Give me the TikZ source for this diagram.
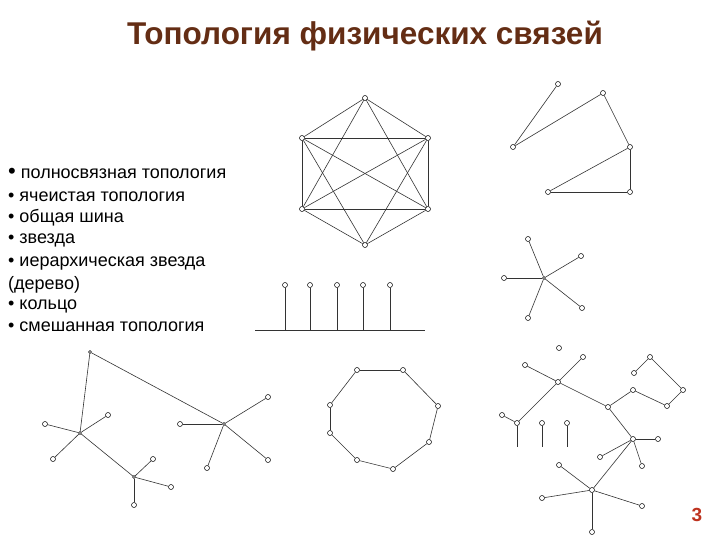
\documentclass[tikz,border=0pt]{standalone}
\usepackage{fontspec}
\setmainfont{Liberation Sans}
\definecolor{ttl}{RGB}{100,45,20}
\definecolor{num}{RGB}{190,50,30}
\begin{document}
\begin{tikzpicture}[x=1bp,y=-1bp,
 vx/.style={circle,draw,fill=white,inner sep=0pt,minimum size=5bp,line width=0.5pt},
 ln/.style={line width=0.6pt,draw=black!80},
 txt/.style={anchor=base west,inner sep=0pt,font=\fontsize{18bp}{20bp}\selectfont}]
\useasboundingbox[fill=white] (0,0) rectangle (720,540);
\node[font=\bfseries\fontsize{31.5bp}{34bp}\selectfont,text=ttl] (title) at (365,36) {Топология физических связей};
\node[txt] (t1) at (8,179) {{\fontsize{22bp}{20bp}\selectfont•} полносвязная топология};
\node[txt] (t2) at (8,202) {• ячеистая топология};
\node[txt] (t3) at (8,223) {• общая шина};
\node[txt] (t4) at (8,244) {• звезда};
\node[txt] (t5) at (8,267) {• иерархическая звезда};
\node[txt] (t6) at (8,289) {(дерево)};
\node[txt] (t7) at (8,309) {• кольцо};
\node[txt] (t8) at (8,331) {• смешанная топология};
\node[font=\bfseries\fontsize{19bp}{20bp}\selectfont,text=num] (pg) at (697,515) {3};
% full mesh
\foreach \n/\x/\y in {h1/365/98,h2/428/138,h3/428/209,h4/365/245,h5/302/209,h6/302/138}
  \node[vx] (\n) at (\x,\y) {};
\foreach \a/\b in {h1/h2,h1/h3,h1/h5,h1/h6,h2/h3,h2/h4,h2/h5,h2/h6,h3/h4,h3/h5,h3/h6,h4/h5,h4/h6,h5/h6}
  \draw[ln] (\a)--(\b);
% mesh
\foreach \n/\x/\y in {ma/558/84,mb/603/93,mc/513/147,md/630/147,me/548/192,mf/630/192}
  \node[vx] (\n) at (\x,\y) {};
\foreach \a/\b in {ma/mc,mc/mb,mb/md,md/me,md/mf,me/mf} \draw[ln] (\a)--(\b);
% star
\node[vx,minimum size=3bp] (sc) at (544,278) {};
\foreach \n/\x/\y in {s1/528/239,s2/581/256,s3/504/278,s4/582/308,s5/528/318}
  {\node[vx] (\n) at (\x,\y) {}; \draw[ln] (sc)--(\n);}
% bus
\coordinate (bl) at (255,330); \coordinate (br) at (425,330);
\draw[ln] (bl)--(br);
\foreach \n/\x in {b1/285,b2/310,b3/337,b4/363,b5/390}
  {\node[vx] (\n) at (\x,285) {}; \coordinate (\n d) at (\x,330); \draw[ln] (\n)--(\n d);}
% ring
\foreach \n/\x/\y in {r0/357/370,r1/403/370,r2/438/406,r3/429/442,r4/393/469,r5/357/460,r6/330/433,r7/330/405}
  \node[vx] (\n) at (\x,\y) {};
\foreach \a/\b in {r0/r1,r1/r2,r2/r3,r3/r4,r4/r5,r5/r6,r6/r7,r7/r0}
  \draw[ln] (\a)--(\b);
% tree
\foreach \n/\x/\y in {tt/90/352,ta/80/433,tb/134/477,tc/224/424}
  \node[vx,minimum size=3bp] (\n) at (\x,\y) {};
\draw[ln] (tt)--(ta) (tt)--(tc) (ta)--(tb);
\foreach \c/\n/\x/\y in {ta/a1/45/424,ta/a2/108/415,ta/a3/53/459,tb/b1/153/459,tb/b2/171/487,tb/b3/134/505,tc/c1/180/424,tc/c2/268/397,tc/c3/268/460,tc/c4/207/468}
  {\node[vx] (\n) at (\x,\y) {}; \draw[ln] (\c)--(\n);}
% mixed
\node[vx] (x0) at (559,348) {};
\foreach \n/\x/\y in {xh/558/382,xa/517/423,xb/542/423,xc/567/423,xm/608/407,xr1/633/390,xr2/667/406,xr3/683/390,xr4/650/357,xr5/634/373,xs/633/439,xt/592/490}
  \node[vx] (\n) at (\x,\y) {};
\foreach \n/\x/\y in {xh1/525/365,xh2/583/357} {\node[vx] (\n) at (\x,\y) {}; \draw[ln] (xh)--(\n);}
\node[vx] (xa1) at (502,415) {};
\draw[ln] (xh)--(xa) (xa)--(xa1) (xh)--(xm) (xm)--(xr1) (xr1)--(xr2) (xr2)--(xr3) (xr3)--(xr4) (xr4)--(xr5) (xm)--(xs) (xs)--(xt);
\draw[ln] (xa)--++(0,24) (xb)--++(0,24) (xc)--++(0,24);
\foreach \n/\x/\y in {xs1/658/439,xs2/600/457,xs3/642/466} {\node[vx] (\n) at (\x,\y) {}; \draw[ln] (xs)--(\n);}
\foreach \n/\x/\y in {xt1/559/465,xt2/542/498,xt3/642/506,xt4/592/532} {\node[vx] (\n) at (\x,\y) {}; \draw[ln] (xt)--(\n);}
\end{tikzpicture}
\end{document}
